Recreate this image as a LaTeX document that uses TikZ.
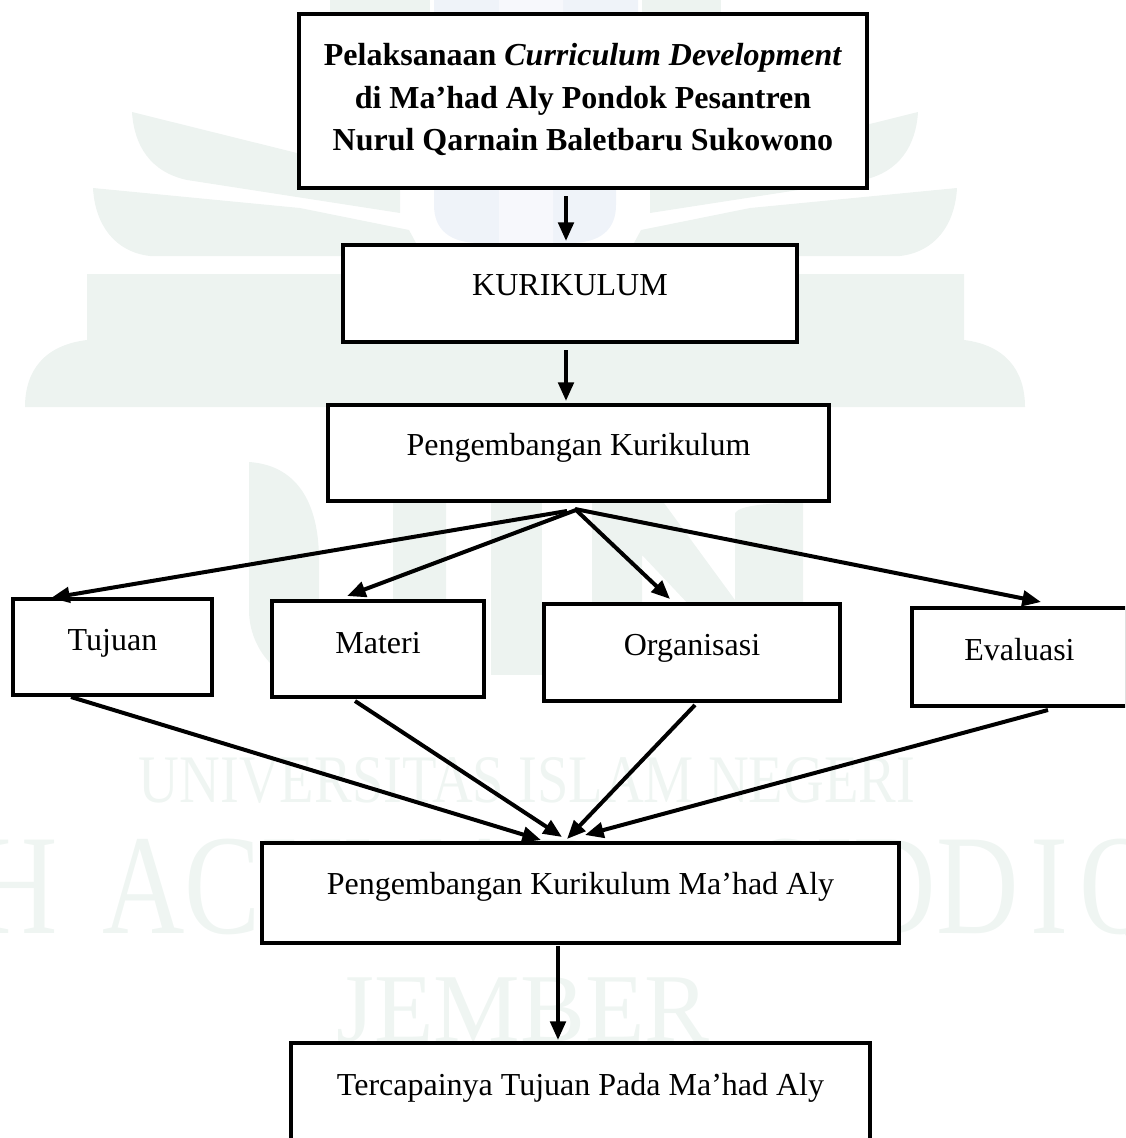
\documentclass[tikz,border=0pt]{standalone}
\usepackage{fontspec}
\setmainfont{Liberation Serif}
\usetikzlibrary{arrows.meta}
\definecolor{wm}{HTML}{EDF3F0}
\definecolor{wmblue}{HTML}{EFF3F9}
\definecolor{wmpale}{HTML}{F7F8FC}
\definecolor{wmtext}{HTML}{EFF5F2}
\tikzset{
  bx/.style n args={3}{draw=black,fill=white,line width=2.6pt,shape=rectangle,inner sep=0pt,outer sep=0pt,
    text width={(#1)*0.75pt},align=flush center,minimum width={(#1)*0.75pt},
    text height={(#3)*0.75pt},text depth={(#2-#3)*0.75pt},
    node font={\fontsize{24}{32}\selectfont}},
  link/.style={draw=black,line width=3pt,-{Triangle[length=14pt,width=11.5pt]}},
  wmword/.style={text=wmtext,inner sep=0pt,anchor=base}
}
\begin{document}
\begin{tikzpicture}[x=0.75pt,y=-0.75pt]
\clip (0,0) rectangle (1125,1138);
% watermark: book and leaves
\fill[wm] (330,0) -- (430,0) -- (430,190) -- (330,190) -- cycle;
\fill[wm] (642,0) -- (721,0) -- (721,190) -- (642,190) -- cycle;
\fill[wmblue] (434,0) -- (638,0) -- (638,20) -- (616,20) -- (616,205) .. controls (616,230) and (600,243) .. (570,243) -- (480,243) .. controls (450,243) and (434,230) .. (434,205) -- cycle;
\fill[wmpale] (499,0) -- (563,0) -- (563,20) -- (553,20) -- (553,243) -- (499,243) -- cycle;
\fill[wm] (132,112) -- (297,153) -- (400,185) -- (400,213) -- (187,180) .. controls (150,172) and (134,145) .. (132,112) -- cycle;
\fill[wm] (918,112) -- (753,153) -- (650,185) -- (650,213) -- (863,180) .. controls (900,172) and (916,145) .. (918,112) -- cycle;
\fill[wm] (93,188) -- (300,208) -- (409,230) -- (423,256) -- (150,256) .. controls (115,252) and (95,225) .. (93,188) -- cycle;
\fill[wm] (957,188) -- (750,208) -- (641,230) -- (627,256) -- (900,256) .. controls (935,252) and (955,225) .. (957,188) -- cycle;
\fill[wm] (87,274) -- (964,274) -- (964,340) .. controls (1005,345) and (1025,370) .. (1025,407) -- (25,407) .. controls (25,370) and (45,345) .. (87,340) -- cycle;
% watermark: U I N
\fill[wm] (249,462) .. controls (295,465) and (319,500) .. (319,560) -- (319,620) .. controls (319,650) and (345,665) .. (393,665) -- (393,500) -- (446,500) -- (446,690) -- (340,690) .. controls (280,690) and (249,650) .. (249,610) -- cycle;
\fill[wm] (491,500) -- (542,500) -- (542,675) -- (491,675) -- cycle;
\fill[wm] (592,503) -- (664,503) -- (735,600) -- (735,513) .. controls (740,505) and (770,503) .. (803,503) -- (803,680) -- (760,680) -- (642,555) -- (642,675) -- (592,675) -- cycle;
% watermark: words
\node[wmword,font=\fontsize{51}{51}\selectfont] (wma) at (527,802) {\scalebox{.83}[1]{UNIVERSITAS ISLAM NEGERI}};
\node[wmword,anchor=base west,font=\fontsize{107}{107}\selectfont] (wmb) at (-107,933) {\scalebox{.8}[1]{KH\hspace{.39em}ACHMAD\hspace{1.25em}SIDD\hspace{.1em}I\hspace{.1em}Q}};
\node[wmword,font=\fontsize{73}{73}\selectfont] (wmc) at (523,1041) {JEMBER};
% boxes
\node[bx={568}{174}{51.5}] (title) at (583,101) {\textbf{Pelaksanaan \textit{Curriculum Development}}\\\textbf{di Ma’had Aly Pondok Pesantren}\\\textbf{Nurul Qarnain Baletbaru Sukowono}};
\node[bx={454}{97}{50}] (kur) at (570,293.5) {KURIKULUM};
\node[bx={501}{96}{50}] (pk) at (578.5,453) {Pengembangan Kurikulum};
\node[bx={199}{96}{51}] (tuj) at (112.5,647) {Tujuan};
\node[bx={212}{96}{52}] (mat) at (378,649) {Materi};
\node[bx={296}{97}{51}] (org) at (692,652.5) {Organisasi};
\node[bx={215}{98}{52}] (eva) at (1019.5,657) {Evaluasi};
\node[bx={637}{100}{51}] (pkma) at (580.5,893) {Pengembangan Kurikulum Ma’had Aly};
\node[bx={579}{103}{52}] (bot) at (580.5,1094.5) {Tercapainya Tujuan Pada Ma’had Aly};
% connectors
\draw[link] ([shift={(-17,8)}]title.south) -- ([shift={(-4,-4)}]kur.north);
\draw[link] ([shift={(-4,8)}]kur.south) -- ([shift={(-12.5,-4)}]pk.north);
\draw[link] ([shift={(-11.5,10)}]pk.south) -- ([shift={(-61.5,-1)}]tuj.north);
\draw[link] ([shift={(-2.5,9)}]pk.south) -- ([shift={(-31,-5)}]mat.north);
\draw[link] ([shift={(-3.5,8)}]pk.south) -- ([shift={(-22,-5)}]org.north);
\draw[link] ([shift={(-3.5,8)}]pk.south) -- ([shift={(21.5,-6)}]eva.north);
\draw[link] ([shift={(-41.5,2)}]tuj.south) -- ([shift={(-39.5,-3)}]pkma.north);
\draw[link] ([shift={(-23,4)}]mat.south) -- ([shift={(-18.5,-6)}]pkma.north);
\draw[link] ([shift={(3,4)}]org.south) -- ([shift={(-13.5,-4)}]pkma.north);
\draw[link] ([shift={(28.5,4)}]eva.south) -- ([shift={(4.5,-8)}]pkma.north);
\draw[link] ([shift={(-22.5,3)}]pkma.south) -- ([shift={(-22.5,-3)}]bot.north);
\end{tikzpicture}
\end{document}
